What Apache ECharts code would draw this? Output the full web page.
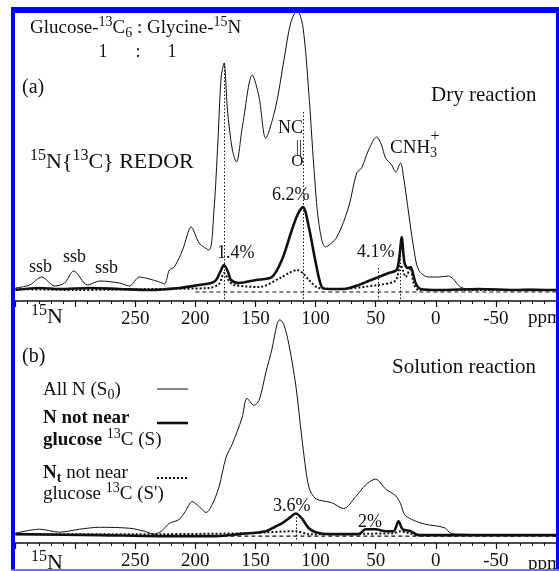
<!DOCTYPE html>
<html>
<head>
<meta charset="utf-8">
<script src="https://cdn.jsdelivr.net/npm/echarts@6/dist/echarts.min.js"></script>
<style>
html, body { margin: 0; padding: 0; background: #fff; }
#main { width: 559px; height: 571px; }
</style>
</head>
<body>
<div id="main"></div>
<script>
// 15N{13C} REDOR spectra: (a) dry reaction, (b) solution reaction
// points are [ppm, intensity above baseline]

// (a) dry reaction
var dryAllN = [[349.6,4],[337.8,7],[327.8,15],[317,6],[308.7,9],[301.2,21],[289.6,7],[279.6,11],[263.1,9],[254.8,6],[246.5,15],[238.2,13],[229.9,10],[225.7,8],[221.6,22],[217.5,25],[210.6,42],[203.4,65],[196.8,49],[188.6,42],[184.5,82],[181.3,149],[178.5,215],[176.1,229],[173.3,182],[169.2,142],[165.8,130],[160.9,165],[152.6,217],[147,195],[141.5,154],[133.2,185],[126.3,232],[120.7,269],[115.3,282],[110.5,265],[105.6,199],[101.4,125],[97.3,69],[91.7,45],[82.3,55],[72.5,85],[65.8,119],[61.7,124],[55.9,142],[49.2,155],[45.1,147],[41.8,134],[36.7,127],[33.4,120],[29.3,129],[26.8,115],[22.6,79],[18.5,45],[14.3,22],[6.1,15],[-2.2,15],[-10.5,16],[-14.6,13],[-20.5,5],[-31.3,2],[-43.4,3],[-60,2],[-76.8,3],[-100,2]];
var dryNotNear = [[349.6,2],[329.5,4],[313,3],[288,4],[263,3],[238,2],[213,4],[196.8,7],[186.8,9],[182.7,12],[179.4,20],[176.1,27],[172.8,20],[170.3,12],[163.7,9],[149.6,12],[136.3,15],[128,32],[119.7,62],[114.7,78],[110.5,85],[105.6,65],[99.8,29],[94.8,5],[89,3],[76.6,3],[64.1,7],[55.9,11],[47.5,15],[39.2,19],[32.6,22],[30.1,37],[28.4,55],[26,29],[23.5,24],[21,25],[16.8,9],[12.7,3],[-2.2,2],[-35.3,3],[-68.6,2],[-100,2]];
var dryNtNotNear = [[349.6,3],[300,2],[238,3],[188.4,4],[180.3,8],[176.1,19],[171.9,11],[167.8,7],[147,5],[128,15],[122.2,19],[115.5,22],[109.7,18],[105.6,12],[97.3,4],[80.8,3],[47.5,7],[35.2,10],[32.6,13],[29.3,27],[26.8,20],[25.1,15],[21,24],[18.5,9],[14.3,2],[-100,2]];
var dryMarkPpm = [176.1, 110.5, 47.5, 29.3];
var dryMarkTop = [229, 180, 24, 54];

// (b) solution reaction
var solAllN = [[349.6,3],[329.5,7],[313,4],[296.3,7],[279.7,9],[254.8,8],[242.4,5],[234.1,2],[228.3,5],[221.6,13],[213.3,17],[208.4,25],[202.6,35],[196.8,30],[191,24],[186,32],[180.3,50],[174.5,80],[169.5,93],[161.2,120],[157,140],[151.2,133],[147,138],[141.2,167],[136.3,190],[132.1,215],[129.7,220],[126.4,215],[122.2,195],[116.4,153],[111.4,100],[105.6,50],[99.8,38],[86.6,34],[76.6,28],[66.6,40],[58.4,52],[50.1,58],[41.8,48],[33.4,41],[29.3,33],[26,22],[20.2,17],[8.5,12],[-2.2,10],[-8,8],[-12.2,3],[-18.8,2],[-60,1],[-100,1]];
var solNotNear = [[349.6,2],[279.7,1],[230,0],[196.8,0],[182.7,0],[163.6,2],[141.2,5],[132.9,10],[128,13],[122.2,18],[116.4,23],[111.4,18],[105.6,8],[99.8,4],[89,2],[64.1,2],[58.4,7],[50.1,7],[41.8,5],[35.2,5],[31,15],[27.6,7],[21,5],[14.3,1],[-100,1]];
var solNtNotNear = [[349.6,2],[230,2],[155.1,3],[116.4,5],[105.6,2],[35.2,3],[29.3,5],[22.6,3],[14.3,1],[-100,1]];
var solMarkPpm = [116.4];
var solMarkTop = [23];

var baseRange = [200, -100];
var hiddenTicks = [350, 300, -100];

var serif = 'Liberation Serif';
var ink = '#111';
var myChart = echarts.init(document.getElementById('main'));

function txt(x, y, text, size, extra) {
    var small = Math.round(size * 0.72);
    var style = {
        text: text,
        fontSize: size,
        fontFamily: serif,
        fill: ink,
        verticalAlign: 'middle',
        rich: {
            sup: { fontSize: small, verticalAlign: 'top', lineHeight: small, fill: ink, fontFamily: serif },
            sub: { fontSize: small, verticalAlign: 'bottom', lineHeight: small, fill: ink, fontFamily: serif },
            b: { fontSize: size, fontWeight: 'bold', fill: ink, fontFamily: serif },
            bsub: { fontSize: small, fontWeight: 'bold', verticalAlign: 'bottom', lineHeight: small, fill: ink, fontFamily: serif }
        }
    };
    for (var k in extra) style[k] = extra[k];
    if (!style.lineHeight) style.lineHeight = Math.round(size * 1.3);
    return { type: 'text', x: x, y: y, z: 50, silent: true, style: style };
}

function legendLine(y, width, dash) {
    return {
        type: 'line', z: 50, silent: true,
        shape: { x1: 157, y1: y, x2: 188, y2: y },
        style: { stroke: ink, lineWidth: width, lineDash: dash || null }
    };
}

function xAxisOf(grid) {
    return {
        type: 'value', gridIndex: grid, inverse: true,
        min: -100, max: 350, interval: 50,
        axisLine: { onZero: false, lineStyle: { color: ink, width: 1.5 } },
        axisTick: { length: 6, lineStyle: { color: ink, width: 1.2 } },
        minorTick: { show: true, splitNumber: 5, length: 3, lineStyle: { color: ink, width: 1 } },
        splitLine: { show: false },
        axisLabel: {
            margin: 9, fontSize: 19, fontFamily: serif, color: ink,
            formatter: function (v) { return hiddenTicks.indexOf(v) >= 0 ? '' : String(v); }
        }
    };
}

function marks(ppm, top, bottom) {
    var out = [];
    for (var i = 0; i < ppm.length; i++) {
        out.push([{ coord: [ppm[i], top[i]] }, { coord: [ppm[i], bottom] }]);
    }
    return out;
}

function spectrum(data, idx, width, dash) {
    return {
        type: 'line', xAxisIndex: idx, yAxisIndex: idx,
        data: data, showSymbol: false, smooth: 0.3, silent: true,
        lineStyle: { color: ink, width: width, type: dash || 'solid' }
    };
}

function baseline(idx, ppm, top, bottom) {
    return {
        type: 'line', xAxisIndex: idx, yAxisIndex: idx, silent: true,
        data: [[baseRange[0], 0], [baseRange[1], 0]], showSymbol: false,
        lineStyle: { color: ink, width: 1.2, type: [4, 3] },
        markLine: {
            silent: true, symbol: 'none', label: { show: false },
            lineStyle: { color: ink, width: 1, type: [1.5, 2] },
            data: marks(ppm, top, bottom)
        }
    };
}

var option = {
    backgroundColor: '#fff',
    animation: false,
    grid: [
        { left: 15, width: 543, top: 13, height: 288 },
        { left: 15, width: 543, top: 301, height: 246 }
    ],
    xAxis: [xAxisOf(0), xAxisOf(1)],
    yAxis: [
        { type: 'value', gridIndex: 0, min: -9, max: 279, show: false },
        { type: 'value', gridIndex: 1, min: -7, max: 239, show: false }
    ],
    series: [
        baseline(0, dryMarkPpm, dryMarkTop, -8),
        spectrum(dryAllN, 0, 1),
        spectrum(dryNotNear, 0, 2.6),
        spectrum(dryNtNotNear, 0, 2, [2, 2]),
        baseline(1, solMarkPpm, solMarkTop, -5),
        spectrum(solAllN, 1, 1),
        spectrum(solNotNear, 1, 2.6),
        spectrum(solNtNotNear, 1, 2, [2, 2])
    ],
    graphic: [
        // blue frame
        { type: 'rect', z: 100, silent: true, shape: { x: 11, y: 7, width: 4, height: 564 }, style: { fill: '#0000ff' } },
        { type: 'rect', z: 100, silent: true, shape: { x: 11, y: 7, width: 548, height: 6 }, style: { fill: '#0000ff' } },
        { type: 'rect', z: 100, silent: true, shape: { x: 556, y: 7, width: 3, height: 564 }, style: { fill: '#0000ff' } },
        { type: 'rect', z: 100, silent: true, shape: { x: 11, y: 569, width: 548, height: 2 }, style: { fill: '#7070ff' } },

        // panel (a) texts
        txt(30, 28, 'Glucose-{sup|13}C{sub|6} : Glycine-{sup|15}N', 19),
        txt(103, 52, '1', 18, { align: 'center' }),
        txt(138, 52, ':', 18, { align: 'center' }),
        txt(172, 52, '1', 18, { align: 'center' }),
        txt(22, 88, '(a)', 20),
        txt(431, 95, 'Dry reaction', 21),
        txt(30, 162, '{sup|15}N{{sup|13}C} REDOR', 22),
        txt(29, 267, 'ssb', 18),
        txt(63, 257, 'ssb', 18),
        txt(95, 268, 'ssb', 18),
        txt(217, 253, '1.4%', 18),
        txt(272, 195, '6.2%', 18),
        txt(357, 252, '4.1%', 18),
        txt(278, 128, 'NC', 18),
        txt(299, 148, '||', 16, { align: 'center' }),
        txt(297.5, 162, 'O', 17, { align: 'center' }),
        txt(390, 148, 'CNH{sub|3}', 19),
        txt(435, 137, '+', 16, { align: 'center' }),
        txt(31, 317, '{sup|15}N', 22),
        txt(528, 318, 'ppm', 19),

        // panel (b) texts
        txt(22, 357, '(b)', 20),
        txt(392, 367, 'Solution reaction', 21),
        txt(43, 390, 'All N (S{sub|0})', 19),
        txt(43, 418, '{b|N not near}', 19),
        txt(43, 440, '{b|glucose} {sup|13}C (S)', 19),
        txt(43, 473, '{b|N}{bsub|t} not near', 19),
        txt(43, 494, "glucose {sup|13}C (S')", 19),
        txt(273, 506, '3.6%', 18),
        txt(358, 522, '2%', 18),
        txt(31, 563, '{sup|15}N', 22),
        txt(528, 564, 'ppm', 19),

        legendLine(389, 1),
        legendLine(423, 2.6),
        legendLine(478, 2, [2, 2])
    ]
};
myChart.setOption(option);
</script>
</body>
</html>
